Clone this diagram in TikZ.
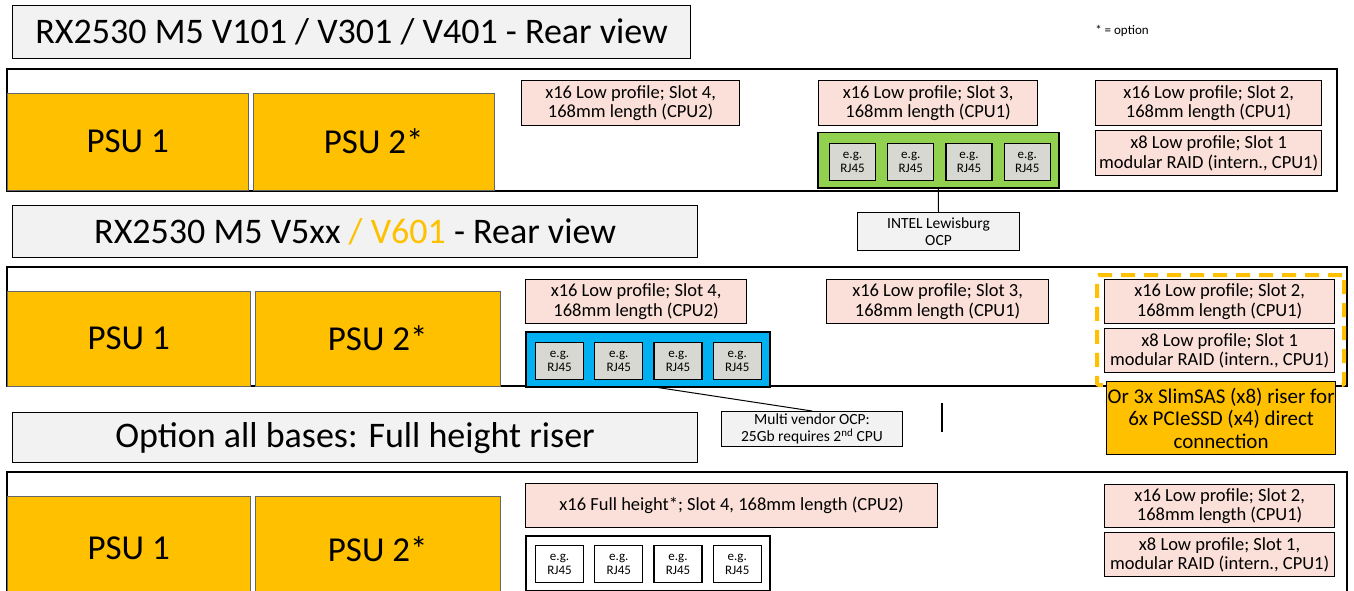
\documentclass[tikz,border=0pt]{standalone}
\usepackage{fontspec}
\setmainfont{Carlito}
\usepackage{tikz}
\usetikzlibrary{positioning}
\definecolor{psugold}{RGB}{255,192,0}
\definecolor{slotpink}{RGB}{250,224,216}
\definecolor{titlegray}{RGB}{242,242,242}
\definecolor{portgray}{RGB}{216,216,210}
\definecolor{ocpgreen}{RGB}{146,208,80}
\definecolor{ocpblue}{RGB}{0,176,240}

\begin{document}
\begin{tikzpicture}[
  x=1pt, y=-1pt,
  every node/.style={inner sep=0pt, align=center},
  titlebox/.style={draw, fill=titlegray, line width=1.2pt, anchor=north west, font=\fontsize{36}{40}\selectfont},
  psu/.style={draw=black!60, fill=psugold, anchor=north west, minimum width=241, minimum height=97, font=\fontsize{35}{40}\selectfont},
  slot/.style={draw, fill=slotpink, line width=1.2pt, anchor=north west, font=\fontsize{18.5}{19.5}\selectfont},
  ocp/.style={draw, line width=1.5pt, anchor=north west, minimum height=55},
  port/.style={draw, line width=1.2pt, anchor=north west, minimum height=37, font=\fontsize{13}{14}\selectfont},
  note/.style={draw, fill=titlegray, line width=1pt, anchor=north west, font=\fontsize{15.5}{16.5}\selectfont},
  chassis/.style={draw, line width=1.5pt}
  ]
\useasboundingbox (0,0) rectangle (1354,591);

% chassis outlines
\draw[chassis] (7,69) rectangle (1337,191);
\draw[chassis] (7,267) rectangle (1347,386);
\draw[chassis] (7,600) -- (7,472) -- (1347,472) -- (1347,600);

% V101 / V301 / V401
\node[titlebox, minimum width=678, minimum height=53] (titleA) at (12,5) {RX2530 M5 V101 / V301 / V401 - Rear view};
\node[font=\fontsize{13}{14}\selectfont] (optnote) at (1122,31) {* = option};

\node[psu] (psuA1) at (7,93) {PSU 1};
\node[psu] (psuA2) at (253,93) {PSU 2*};

\node[slot, minimum width=218, minimum height=45] (slotA4) at (521,80) {x16 Low profile; Slot 4,\\168mm length (CPU2)};
\node[slot, minimum width=219, minimum height=45] (slotA3) at (818,80) {x16 Low profile; Slot 3,\\168mm length (CPU1)};
\node[slot, minimum width=226, minimum height=45] (slotA2) at (1095,80) {x16 Low profile; Slot 2,\\168mm length (CPU1)};
\node[slot, minimum width=226, minimum height=45, below=4pt of slotA2] (slotA1) {x8 Low profile; Slot 1\\modular RAID (intern., CPU1)};

\node[ocp, fill=ocpgreen, minimum width=241] (ocpA) at (817,132) {};
\node[port, fill=portgray, minimum width=46] (portA1) at (829,143) {e.g.\\RJ45};
\node[port, fill=portgray, minimum width=46, right=11pt of portA1] (portA2) {e.g.\\RJ45};
\node[port, fill=portgray, minimum width=46, right=11pt of portA2] (portA3) {e.g.\\RJ45};
\node[port, fill=portgray, minimum width=46, right=11pt of portA3] (portA4) {e.g.\\RJ45};

\node[note, minimum width=162, minimum height=38] (intel) at (857,212) {INTEL Lewisburg\\OCP};
\draw[line width=1pt] (ocpA.south) -- (intel.north);

% V5xx / V601
\node[titlebox, minimum width=685, minimum height=52] (titleB) at (12,205) {RX2530 M5 V5xx {\color{psugold}/ V601} - Rear view};

\node[psu, minimum width=243, minimum height=95] (psuB1) at (7,291) {PSU 1};
\node[psu, minimum width=245, minimum height=95] (psuB2) at (255,291) {PSU 2*};

\node[slot, minimum width=221, minimum height=44] (slotB4) at (525,279) {x16 Low profile; Slot 4,\\168mm length (CPU2)};
\node[slot, minimum width=222, minimum height=44] (slotB3) at (826,279) {x16 Low profile; Slot 3,\\168mm length (CPU1)};

\node[draw=psugold, line width=4pt, dash pattern=on 14pt off 9pt, rounded corners=2pt, anchor=north west, minimum width=247, minimum height=110] (riserB) at (1095,273) {};
\node[slot, minimum width=230, minimum height=44] (slotB2) at (1104,279) {x16 Low profile; Slot 2,\\168mm length (CPU1)};
\node[slot, minimum width=230, minimum height=44, below=4pt of slotB2] (slotB1) {x8 Low profile; Slot 1\\modular RAID (intern., CPU1)};
\node[draw, fill=psugold, line width=1.2pt, anchor=north west, minimum width=229, minimum height=73, font=\fontsize{21}{22.5}\selectfont] (slimsas) at (1106,381) {Or 3x SlimSAS (x8) riser for\\6x PCIeSSD (x4) direct\\connection};

\node[ocp, fill=ocpblue, minimum width=244] (ocpB) at (525,331) {};
\node[port, fill=portgray, minimum width=48] (portB1) at (535,342) {e.g.\\RJ45};
\node[port, fill=portgray, minimum width=48, right=10pt of portB1] (portB2) {e.g.\\RJ45};
\node[port, fill=portgray, minimum width=48, right=10pt of portB2] (portB3) {e.g.\\RJ45};
\node[port, fill=portgray, minimum width=48, right=10pt of portB3] (portB4) {e.g.\\RJ45};

\node[note, minimum width=181, minimum height=35] (multi) at (721,411) {Multi vendor OCP:\\25Gb requires 2\textsuperscript{nd} CPU};
\draw[line width=1pt] ([xshift=10pt]ocpB.south) -- (multi.north);

\coordinate (tickA) at (942,403);
\coordinate (tickB) at (942,432);
\draw[line width=1.8pt] (tickA) -- (tickB);

% full height riser
\node[titlebox, minimum width=685, minimum height=50] (titleC) at (12,412) {Option all bases: Full height riser};

\node[psu, minimum width=243, minimum height=105] (psuC1) at (7,496) {PSU 1};
\node[psu, minimum width=245, minimum height=105] (psuC2) at (255,496) {PSU 2*};

\node[slot, minimum width=412, minimum height=44] (slotC4) at (525,483) {x16 Full height*; Slot 4, 168mm length (CPU2)};
\node[slot, minimum width=230, minimum height=43] (slotC2) at (1104,484) {x16 Low profile; Slot 2,\\168mm length (CPU1)};
\node[slot, minimum width=230, minimum height=44, below=4pt of slotC2] (slotC1) {x8 Low profile; Slot 1,\\modular RAID (intern., CPU1)};

\node[ocp, fill=white, minimum width=244] (ocpC) at (525,535) {};
\node[port, fill=white, minimum width=48] (portC1) at (535,545) {e.g.\\RJ45};
\node[port, fill=white, minimum width=48, right=10pt of portC1] (portC2) {e.g.\\RJ45};
\node[port, fill=white, minimum width=48, right=10pt of portC2] (portC3) {e.g.\\RJ45};
\node[port, fill=white, minimum width=48, right=10pt of portC3] (portC4) {e.g.\\RJ45};

\end{tikzpicture}
\end{document}
